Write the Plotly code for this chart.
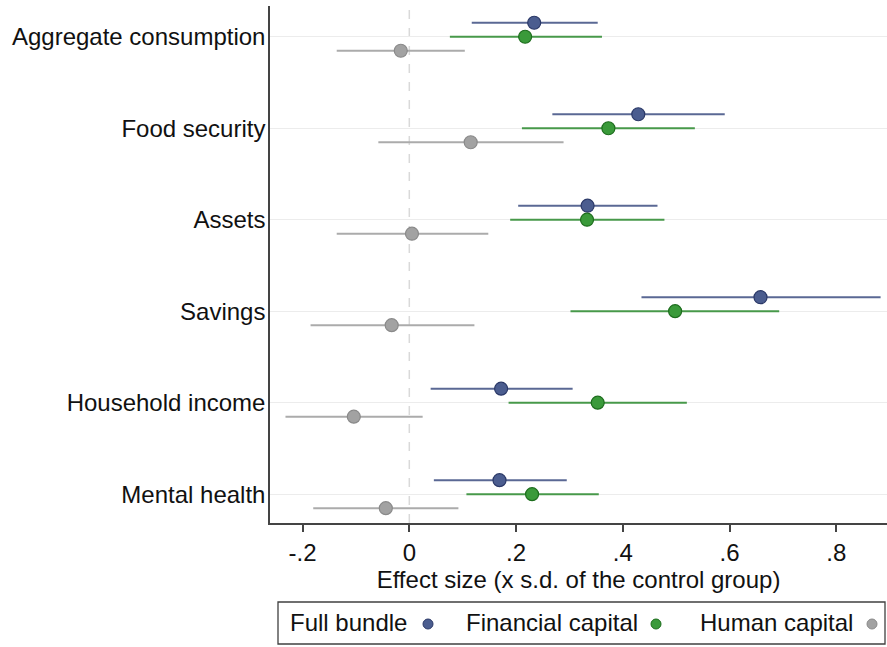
import plotly.graph_objects as go

# Outcomes (top to bottom) and treatment arms
categories = ["Aggregate consumption", "Food security", "Assets", "Savings",
              "Household income", "Mental health"]

arms = ["Full bundle", "Financial capital", "Human capital"]

# Point estimates (effect size, x s.d. of the control group)
full_est = [0.234, 0.429, 0.334, 0.658, 0.172, 0.169]
fin_est = [0.217, 0.373, 0.333, 0.498, 0.353, 0.230]
hum_est = [-0.016, 0.115, 0.005, -0.033, -0.104, -0.044]

# Confidence interval bounds
full_lo = [0.117, 0.268, 0.204, 0.435, 0.040, 0.046]
full_hi = [0.353, 0.591, 0.465, 0.883, 0.306, 0.295]
fin_lo = [0.076, 0.211, 0.189, 0.302, 0.186, 0.107]
fin_hi = [0.361, 0.535, 0.478, 0.693, 0.520, 0.355]
hum_lo = [-0.136, -0.058, -0.136, -0.185, -0.232, -0.180]
hum_hi = [0.104, 0.289, 0.148, 0.122, 0.025, 0.092]

x_ticks = [-0.2, 0, 0.2, 0.4, 0.6, 0.8]
x_tick_labels = ["-.2", "0", ".2", ".4", ".6", ".8"]

FONT = "Liberation Sans, Arial, sans-serif"
FS = 24

styles = [
    dict(fill="#4b5d8f", edge="#2b3968", line="#5a6894"),
    dict(fill="#3a9a3a", edge="#1d6d1d", line="#47994a"),
    dict(fill="#a2a2a2", edge="#8a8a8a", line="#ababab"),
]
offsets = [-0.153, 0.0, 0.153]
estimates = [full_est, fin_est, hum_est]
lows = [full_lo, fin_lo, hum_lo]
highs = [full_hi, fin_hi, hum_hi]

fig = go.Figure()

# Zero reference line
fig.add_shape(type="line", xref="x", yref="paper", x0=0, x1=0, y0=0, y1=1,
              line=dict(color="#d9d9d9", width=1.5, dash="dash"), layer="below")

for arm, est, lo, hi, off, st in zip(arms, estimates, lows, highs, offsets, styles):
    ypos = [i + off for i in range(len(categories))]
    fig.add_trace(go.Scatter(
        x=est, y=ypos, mode="markers", name=arm, showlegend=False,
        marker=dict(size=13, color=st["fill"], line=dict(color=st["edge"], width=1.2)),
        error_x=dict(type="data", symmetric=False,
                     array=[h - e for h, e in zip(hi, est)],
                     arrayminus=[e - l for e, l in zip(est, lo)],
                     color=st["line"], thickness=2, width=0),
    ))

# Plot area in pixels
W, H = 887, 647
L, R, T, B = 270, 0, 6, 124
pw, ph = W - L - R, H - T - B


def px_x(p):
    return (p - L) / pw


def px_y(p):
    return (H - B - p) / ph


# Legend box with text before each symbol
leg_top, leg_bot = 602, 644
leg_mid = (leg_top + leg_bot) / 2
fig.add_shape(type="rect", xref="paper", yref="paper",
              x0=px_x(278), x1=px_x(885), y0=px_y(leg_bot), y1=px_y(leg_top),
              line=dict(color="#404040", width=1.3), fillcolor="white")

legend_items = [(arms[0], 288, 428), (arms[1], 464, 656), (arms[2], 698, 872)]
for (label, tx, cx), st in zip(legend_items, styles):
    fig.add_annotation(text=label, xref="paper", yref="paper",
                       x=px_x(tx), y=px_y(leg_mid), xanchor="left", yanchor="middle",
                       showarrow=False, font=dict(family=FONT, size=FS, color="#111111"))
    r = 5
    fig.add_shape(type="circle", xref="paper", yref="paper",
                  x0=px_x(cx - r), x1=px_x(cx + r),
                  y0=px_y(leg_mid + 1 + r), y1=px_y(leg_mid + 1 - r),
                  fillcolor=st["fill"], line=dict(color=st["edge"], width=1))

fig.update_layout(
    width=W, height=H,
    margin=dict(l=L, r=R, t=T, b=B, pad=0),
    paper_bgcolor="white", plot_bgcolor="white",
    font=dict(family=FONT, size=FS, color="#111111"),
    showlegend=False,
)

fig.update_xaxes(
    range=[-0.261, 0.895], tickvals=x_ticks, ticktext=x_tick_labels,
    showgrid=False, zeroline=False,
    showline=True, linecolor="#444444", linewidth=1.5,
    ticks="outside", ticklen=7, tickwidth=1.5, tickcolor="#444444",
    tickfont=dict(family=FONT, size=FS),
    title=dict(text="Effect size (x s.d. of the control group)",
               font=dict(family=FONT, size=FS), standoff=2),
)

fig.update_yaxes(
    range=[5.315, -0.336], tickvals=list(range(len(categories))), ticktext=categories,
    showgrid=True, gridcolor="#ececec", gridwidth=1, zeroline=False,
    showline=True, linecolor="#444444", linewidth=1.5,
    ticks="", ticklabelstandoff=-2,
    tickfont=dict(family=FONT, size=FS),
)

fig.write_html("out.html")
